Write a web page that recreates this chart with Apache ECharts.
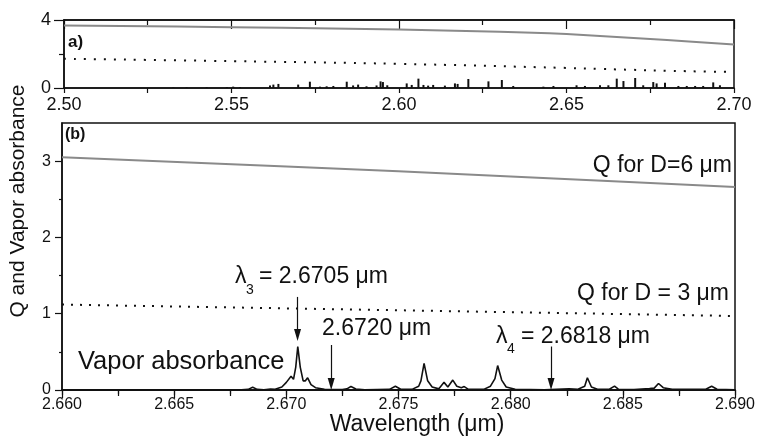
<!DOCTYPE html>
<html>
<head>
<meta charset="utf-8">
<script src="https://cdn.jsdelivr.net/npm/echarts@6/dist/echarts.min.js"></script>
<style>
  html, body { margin: 0; padding: 0; background: #fff; }
  #chart { width: 759px; height: 440px; }
</style>
</head>
<body>
<div id="chart"></div>
<script>
// ---- Panel (a): wide range 2.50–2.70 µm ----
const qD6Wide = [[2.50, 3.67], [2.55, 3.58], [2.58, 3.50], [2.60, 3.44], [2.62, 3.36], [2.64, 3.25],
                 [2.65, 3.17], [2.66, 3.06], [2.68, 2.82], [2.70, 2.56]];
const qD3Wide = [[2.50, 1.72], [2.55, 1.58], [2.60, 1.42], [2.65, 1.18], [2.66, 1.12],
                 [2.69, 0.97], [2.698, 0.95]];
// absorption lines (wavelength, peak absorbance)
const vaporLinesWide = [
  [2.5326, 0.03], [2.5366, 0.04], [2.5426, 0.05], [2.5486, 0.06], [2.5505, 0.08], [2.5525, 0.06],
  [2.5615, 0.15], [2.5625, 0.20], [2.5640, 0.24], [2.5699, 0.20], [2.5734, 0.37], [2.5764, 0.08],
  [2.5784, 0.10], [2.5804, 0.12], [2.5844, 0.37], [2.5863, 0.15], [2.5878, 0.20], [2.5903, 0.10],
  [2.5933, 0.15], [2.5945, 0.39], [2.5952, 0.35], [2.5965, 0.16], [2.6023, 0.27], [2.6038, 0.18],
  [2.6058, 0.55], [2.6073, 0.18], [2.6087, 0.14], [2.6102, 0.18], [2.6137, 0.14], [2.6167, 0.27],
  [2.6175, 0.24], [2.6207, 0.53], [2.6267, 0.39], [2.6307, 0.47], [2.6341, 0.12], [2.6431, 0.08],
  [2.6461, 0.12], [2.6530, 0.16], [2.6555, 0.12], [2.6600, 0.16], [2.6625, 0.16], [2.6650, 0.55],
  [2.6670, 0.41], [2.6705, 0.59], [2.6729, 0.16], [2.6759, 0.35], [2.6769, 0.27], [2.6794, 0.31],
  [2.6834, 0.12], [2.6859, 0.12], [2.6884, 0.12], [2.6908, 0.12], [2.6938, 0.33], [2.6958, 0.16]
];
const xTicksWide = [2.50, 2.55, 2.60, 2.65, 2.70];
const yTicksWide = [0, 4];

// ---- Panel (b): zoom 2.660–2.690 µm ----
const qD6 = [[2.660, 3.05], [2.670, 2.93], [2.680, 2.80], [2.690, 2.66]];
const qD3 = [[2.660, 1.12], [2.690, 0.97]];
const vaporSpectrum = [
  [2.6600, 0.000], [2.6680, 0.002], [2.6683, 0.008], [2.6685, 0.035], [2.6687, 0.008],
  [2.6690, 0.004], [2.6693, 0.012], [2.6695, 0.010], [2.6698, 0.040], [2.6700, 0.100],
  [2.67021, 0.180], [2.67032, 0.140], [2.67042, 0.300], [2.67051, 0.570], [2.67062, 0.300],
  [2.67075, 0.120], [2.67085, 0.120], [2.67095, 0.160], [2.67110, 0.070], [2.6713, 0.030],
  [2.6717, 0.010], [2.6725, 0.005], [2.6727, 0.015], [2.67288, 0.045], [2.6731, 0.012],
  [2.6735, 0.004], [2.6746, 0.008], [2.67486, 0.050], [2.6751, 0.010], [2.6756, 0.008],
  [2.6759, 0.050], [2.6760, 0.120], [2.67614, 0.350], [2.6763, 0.120], [2.6765, 0.040],
  [2.6768, 0.015], [2.67703, 0.100], [2.6772, 0.040], [2.67742, 0.130], [2.6776, 0.050],
  [2.67767, 0.055], [2.6778, 0.030], [2.67793, 0.045], [2.6781, 0.012], [2.6788, 0.008],
  [2.6791, 0.050], [2.6793, 0.150], [2.67942, 0.320], [2.6796, 0.130], [2.6798, 0.040],
  [2.6802, 0.010], [2.6815, 0.003], [2.6826, 0.015], [2.6830, 0.010], [2.6833, 0.050],
  [2.68342, 0.160], [2.6836, 0.040], [2.6839, 0.008], [2.6844, 0.010], [2.68463, 0.050],
  [2.6848, 0.010], [2.6855, 0.005], [2.68619, 0.020], [2.6864, 0.025], [2.68659, 0.085],
  [2.6868, 0.030], [2.6872, 0.008], [2.6887, 0.010], [2.68896, 0.050], [2.6892, 0.010],
  [2.6900, 0.003]
];
const xTicks = [2.660, 2.665, 2.670, 2.675, 2.680, 2.685, 2.690];
const yTicks = [0, 1, 2, 3];
const yMinorTicks = [0.5, 1.5, 2.5];

// marked wavelengths: arrow x, arrow start, arrow end (head centre)
const arrowLambda = [2.6705, 2.6720, 2.6818];
const arrowFrom = [1.22, 0.59, 0.57];
const arrowEnd = [0.72, 0.08, 0.08];

const FONT = '"Liberation Sans", Arial, Helvetica, sans-serif';
const INK = '#111';
const GREY = '#8a8a8a';

const chart = echarts.init(document.getElementById('chart'));

function xAxisBottom(gridIndex, min, max, interval, labels, digits, fontSize, margin, tickLen, minorLen) {
  return {
    type: 'value', gridIndex, min, max, interval, position: 'bottom',
    axisLine: { show: true, lineStyle: { color: INK, width: 1.5 } },
    axisTick: { show: true, inside: false, length: tickLen, lineStyle: { color: INK, width: 1.2 } },
    minorTick: { show: true, splitNumber: 2, length: minorLen, lineStyle: { color: INK, width: 1.2 } },
    axisLabel: { fontFamily: FONT, fontSize, color: INK, margin, customValues: labels,
                 formatter: v => v.toFixed(digits) },
    splitLine: { show: false }
  };
}
function xAxisTop(gridIndex, min, max, interval, tickLen, minorLen) {
  return {
    type: 'value', gridIndex, min, max, interval, position: 'top',
    axisLine: { show: true, lineStyle: { color: INK, width: 1.5 } },
    axisTick: { show: true, inside: true, length: tickLen, lineStyle: { color: INK, width: 1.2 } },
    minorTick: { show: true, splitNumber: 2, length: minorLen, lineStyle: { color: INK, width: 1.2 } },
    axisLabel: { show: false },
    splitLine: { show: false }
  };
}

function label(x, y, text, size, extra) {
  return Object.assign({
    type: 'text', x, y,
    style: Object.assign({ text, font: size + 'px ' + FONT, fill: INK, verticalAlign: 'middle' },
                         (extra && extra.style) || {})
  }, extra && extra.el);
}

const option = {
  animation: false,
  backgroundColor: '#fff',
  grid: [
    { left: 64, right: 25, top: 20, height: 68, show: true, borderColor: INK, borderWidth: 1.5 },
    { left: 62, right: 24, top: 123, height: 267, show: true, borderColor: INK, borderWidth: 1.5 }
  ],
  xAxis: [
    xAxisBottom(0, 2.50, 2.70, 0.05, xTicksWide, 2, 18, 8, 5, 5),
    xAxisTop(0, 2.50, 2.70, 0.05, 9, 5),
    xAxisBottom(1, 2.660, 2.690, 0.005, xTicks, 3, 16, 7, 5, 4),
    xAxisTop(1, 2.660, 2.690, 0.005, 8, 6)
  ],
  yAxis: [
    {
      type: 'value', gridIndex: 0, min: 0, max: 4, interval: 4, position: 'left',
      axisLine: { show: true, lineStyle: { color: INK, width: 1.5 } },
      axisTick: { show: true, length: 10, lineStyle: { color: INK, width: 1.2 } },
      minorTick: { show: true, splitNumber: 2, length: 5, lineStyle: { color: INK, width: 1.2 } },
      axisLabel: { fontFamily: FONT, fontSize: 18, color: INK, margin: 13, customValues: yTicksWide },
      splitLine: { show: false }
    },
    {
      type: 'value', gridIndex: 1, min: 0, max: 3.5, position: 'left',
      axisLine: { show: true, lineStyle: { color: INK, width: 1.5 } },
      axisTick: { show: true, length: 7, customValues: yTicks, lineStyle: { color: INK, width: 1.2 } },
      axisLabel: { fontFamily: FONT, fontSize: 16, color: INK, margin: 11, customValues: yTicks },
      splitLine: { show: false }
    },
    {
      type: 'value', gridIndex: 1, min: 0, max: 3.5, position: 'left', offset: 0,
      axisLine: { show: false },
      axisTick: { show: true, length: 3, customValues: yMinorTicks, lineStyle: { color: INK, width: 1.2 } },
      axisLabel: { show: false },
      splitLine: { show: false }
    }
  ],
  series: [
    { type: 'line', xAxisIndex: 0, yAxisIndex: 0, data: qD6Wide, smooth: 0.4, symbol: 'none',
      lineStyle: { color: GREY, width: 2 } },
    { type: 'line', xAxisIndex: 0, yAxisIndex: 0, data: qD3Wide, smooth: 0.4, symbol: 'none',
      lineStyle: { color: INK, width: 2, type: [2, 8], cap: 'butt' } },
    { type: 'bar', xAxisIndex: 0, yAxisIndex: 0, data: vaporLinesWide, barWidth: 2,
      itemStyle: { color: INK } },

    { type: 'line', xAxisIndex: 2, yAxisIndex: 1, data: qD6, smooth: 0.3, symbol: 'none',
      lineStyle: { color: GREY, width: 2 } },
    { type: 'line', xAxisIndex: 2, yAxisIndex: 1, data: qD3, symbol: 'none',
      lineStyle: { color: INK, width: 2, type: [2, 7], cap: 'butt' } },
    { type: 'line', xAxisIndex: 2, yAxisIndex: 1, data: vaporSpectrum, symbol: 'none',
      lineStyle: { color: INK, width: 1.6 },
      markLine: {
        silent: true, animation: false,
        symbol: ['none', 'triangle'], symbolSize: [7, 12],
        lineStyle: { color: INK, width: 1.2, type: 'solid' },
        label: { show: false },
        emphasis: { disabled: true },
        data: arrowLambda.map((x, i) => [{ coord: [x, arrowFrom[i]] }, { coord: [x, arrowEnd[i]] }])
      } }
  ],
  graphic: [
    { type: 'text', left: 68, top: 34, style: { text: 'a)', font: 'bold 17px ' + FONT, fill: INK } },
    { type: 'text', left: 65, top: 127, style: { text: '(b)', font: 'bold 16px ' + FONT, fill: INK } },
    label(732, 166, 'Q for D=6 μm', 23, { style: { align: 'right' } }),
    label(729, 294, 'Q for D = 3 μm', 23, { style: { align: 'right' } }),
    label(235, 277, 'λ', 23),
    label(246, 290, '3', 14),
    label(259, 277, '= 2.6705 μm', 23),
    label(322, 329, '2.6720 μm', 23),
    label(496, 337, 'λ', 23),
    label(507, 349, '4', 14),
    label(521, 337, '= 2.6818 μm', 23),
    label(78, 362, 'Vapor absorbance', 25.5),
    label(417, 425, 'Wavelength (μm)', 23, { style: { align: 'center' } }),
    label(18, 201, 'Q and Vapor absorbance', 21,
          { style: { align: 'center' }, el: { rotation: Math.PI / 2 } })
  ]
};

chart.setOption(option);
</script>
</body>
</html>
